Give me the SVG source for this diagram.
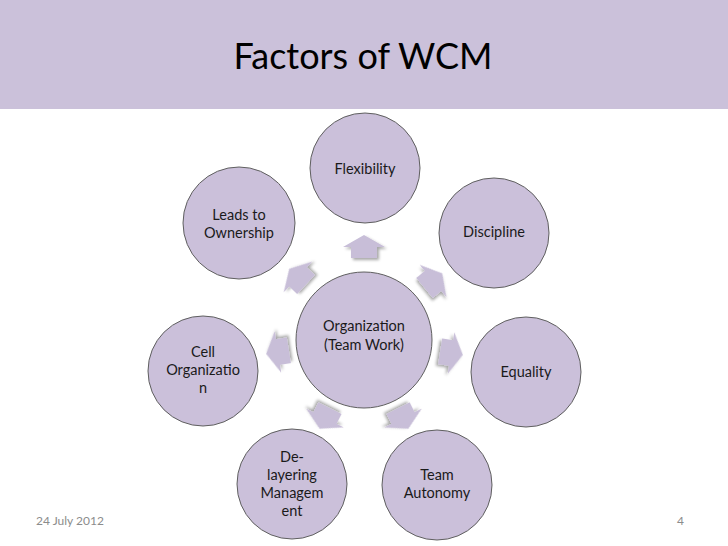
<svg xmlns="http://www.w3.org/2000/svg" width="728" height="546" viewBox="0 0 728 546">
  <defs>
    <style>
      .node circle { fill: #CBC0DA; stroke: #5f5f5f; stroke-width: 1; }
      .lbl { font-family: Lato, "Open Sans", "Liberation Sans", sans-serif; font-size: 14.5px; fill: #1a1a1a; text-anchor: middle; }
      .title { font-family: Lato, "Open Sans", "Liberation Sans", sans-serif; font-size: 36px; fill: #000; text-anchor: middle; }
      .foot { font-family: Lato, "Open Sans", "Liberation Sans", sans-serif; font-size: 12px; fill: #8c8c8c; }
      .arr { fill: #C8BED8; filter: url(#sh); }
    </style>
    <filter id="sh" x="-30%" y="-30%" width="160%" height="160%">
      <feGaussianBlur in="SourceAlpha" stdDeviation="1.5"/>
      <feOffset dx="1.5" dy="2" result="b"/>
      <feComponentTransfer><feFuncA type="linear" slope="0.35"/></feComponentTransfer>
      <feMerge><feMergeNode/><feMergeNode in="SourceGraphic"/></feMerge>
    </filter>
    <path id="ar" d="M0,-12 L21,0 L13,0 L13,11 L-13,11 L-13,0 L-21,0 Z"/>
  </defs>

  <rect x="0" y="0" width="728" height="546" fill="#ffffff"/>
  <rect x="0" y="0" width="728" height="109" fill="#CBC1DA"/>
  <text class="title" x="363" y="69">Factors of WCM</text>

  <g id="connectors">
    <use href="#ar" class="arr" transform="translate(364,247) rotate(0)"/>
    <use href="#ar" class="arr" transform="translate(433,281) rotate(50.5)"/>
    <use href="#ar" class="arr" transform="translate(451,353) rotate(99)"/>
    <use href="#ar" class="arr" transform="translate(403,418) rotate(153.3)"/>
    <use href="#ar" class="arr" transform="translate(325,418) rotate(206.6)"/>
    <use href="#ar" class="arr" transform="translate(278,352) rotate(-99)"/>
    <use href="#ar" class="arr" transform="translate(298,277) rotate(-47)"/>
  </g>

  <g id="center" class="node">
    <circle cx="364" cy="340" r="68"/>
    <text class="lbl" x="364" y="331">Organization</text>
    <text class="lbl" x="364" y="350">(Team Work)</text>
  </g>
  <g id="flexibility" class="node">
    <circle cx="365" cy="168" r="55"/>
    <text class="lbl" x="365" y="174">Flexibility</text>
  </g>
  <g id="discipline" class="node">
    <circle cx="494" cy="233" r="55"/>
    <text class="lbl" x="494" y="237">Discipline</text>
  </g>
  <g id="equality" class="node">
    <circle cx="526" cy="372" r="55"/>
    <text class="lbl" x="526" y="377">Equality</text>
  </g>
  <g id="team-autonomy" class="node">
    <circle cx="437" cy="485" r="55"/>
    <text class="lbl" x="437" y="480">Team</text>
    <text class="lbl" x="437" y="498">Autonomy</text>
  </g>
  <g id="delayering" class="node">
    <circle cx="292" cy="484" r="55"/>
    <text class="lbl" x="292" y="462">De-</text>
    <text class="lbl" x="292" y="480">layering</text>
    <text class="lbl" x="292" y="498">Managem</text>
    <text class="lbl" x="292" y="516">ent</text>
  </g>
  <g id="cell" class="node">
    <circle cx="203" cy="371" r="55"/>
    <text class="lbl" x="203" y="357">Cell</text>
    <text class="lbl" x="203" y="375">Organizatio</text>
    <text class="lbl" x="203" y="393">n</text>
  </g>
  <g id="leads" class="node">
    <circle cx="239" cy="223" r="56"/>
    <text class="lbl" x="239" y="220">Leads to</text>
    <text class="lbl" x="239" y="238">Ownership</text>
  </g>

  <text class="foot" x="36" y="525">24 July 2012</text>
  <text class="foot" x="684" y="525" text-anchor="end">4</text>
</svg>
